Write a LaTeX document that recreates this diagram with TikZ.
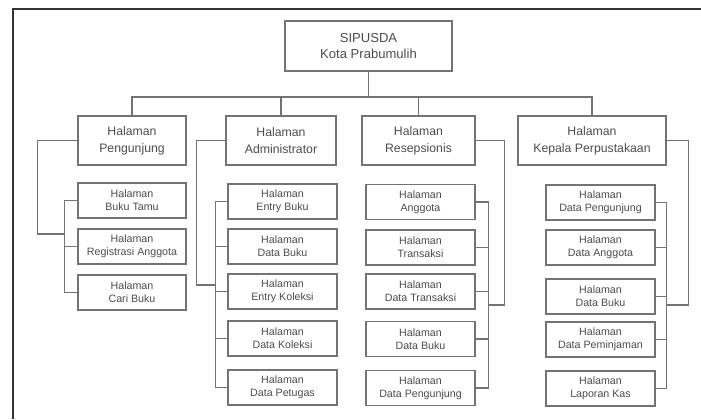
\documentclass[tikz,border=0pt]{standalone}
\usepackage{fontspec}
\setmainfont{Liberation Sans}
\usepackage{tikz}
\usetikzlibrary{positioning}

\begin{document}
\begin{tikzpicture}[
  x=0.75pt, y=-0.75pt,
  every node/.style={text=black!70},
  top/.style={draw=black!55,line width=0.9pt,align=center,inner sep=0pt,minimum width=125.25pt,minimum height=37.5pt,font=\fontsize{9.8}{11.5}\selectfont},
  page/.style={draw=black!55,line width=0.9pt,align=center,inner sep=0pt,minimum height=36.75pt,font=\fontsize{9.2}{12.8}\selectfont},
  sub/.style={draw=black!55,line width=0.9pt,align=center,inner sep=0pt,minimum width=81.75pt,minimum height=26.25pt,font=\fontsize{8}{9.8}\selectfont},
  ln/.style={draw=black!55,line width=0.9pt}
]
\useasboundingbox (0,0) rectangle (701,419);
% outer frame (cut at right and bottom)
\draw[black!80,line width=1.5pt] (701,9) -- (13,9) -- (13,419);

% root
\node[top] (root) at (368.5,46) {SIPUSDA\\Kota Prabumulih};
\coordinate (bus) at (368.5,97);

% pages
\node[page,minimum width=81pt] (peng) at (132,140.5) {Halaman\\Pengunjung};
\node[page,minimum width=82.5pt] (admin) at (281,140.5) {Halaman\\Administrator};
\node[page,minimum width=84.75pt] (resep) at (418.5,140.5) {Halaman\\Resepsionis};
\node[page,minimum width=111pt] (kepala) at (592,140.5) {Halaman\\Kepala Perpustakaan};

\draw[ln] (root) -- (bus);
\draw[ln] (bus) -| (peng.north);
\draw[ln] (bus) -| (admin.north);
\draw[ln] (bus) -| (resep.north);
\draw[ln] (bus) -| (kepala.north);

% pengunjung
\node[sub,minimum width=81pt] (tamu) at (132,200.5) {Halaman\\Buku Tamu};
\node[sub,minimum width=81pt] (regis) at (132,246.5) {Halaman\\Registrasi Anggota};
\node[sub,minimum width=81pt] (cari) at (132,292.5) {Halaman\\Cari Buku};
\coordinate (pjoin) at (65,234);
\draw[ln] (peng.west) -- ++(-40,0) |- (pjoin);
\draw[ln] (tamu.west) -- ++(-13,0) |- (cari.west);
\draw[ln] (regis.west) -- ++(-13,0);

% administrator
\node[sub] (entbuku) at (282.5,201.5) {Halaman\\Entry Buku};
\node[sub] (dbuku) at (282.5,246.5) {Halaman\\Data Buku};
\node[sub] (entkol) at (282.5,291.5) {Halaman\\Entry Koleksi};
\node[sub] (dkol) at (282.5,338.5) {Halaman\\Data Koleksi};
\node[sub] (dpetugas) at (282.5,387.5) {Halaman\\Data Petugas};
\coordinate (ajoin) at (216,285);
\draw[ln] (admin.west) -- ++(-29,0) |- (ajoin);
\draw[ln] (entbuku.west) -- ++(-12,0) |- (dpetugas.west);
\draw[ln] (dbuku.west) -- ++(-12,0);
\draw[ln] (entkol.west) -- ++(-12,0);
\draw[ln] (dkol.west) -- ++(-12,0);

% resepsionis
\node[sub] (anggota) at (420.5,202) {Halaman\\Anggota};
\node[sub] (trans) at (420.5,247.5) {Halaman\\Transaksi};
\node[sub] (dtrans) at (420.5,291.5) {Halaman\\Data Transaksi};
\node[sub] (rbuku) at (420.5,339) {Halaman\\Data Buku};
\node[sub] (rpeng) at (420.5,388) {Halaman\\Data Pengunjung};
\coordinate (rjoin) at (488,305);
\draw[ln] (resep.east) -- ++(29,0) |- (rjoin);
\draw[ln] (anggota.east) -- ++(13,0) |- (rpeng.east);
\draw[ln] (trans.east) -- ++(13,0);
\draw[ln] (dtrans.east) -- ++(13,0);
\draw[ln] (rbuku.east) -- ++(13,0);

% kepala perpustakaan
\node[sub] (kpeng) at (600.5,202.5) {Halaman\\Data Pengunjung};
\node[sub] (kangg) at (600.5,247.5) {Halaman\\Data Anggota};
\node[sub] (kbuku) at (600.5,296.5) {Halaman\\Data Buku};
\node[sub] (kpinjam) at (600.5,339.5) {Halaman\\Data Peminjaman};
\node[sub] (kkas) at (600.5,388.5) {Halaman\\Laporan Kas};
\coordinate (kjoin) at (666,305);
\draw[ln] (kepala.east) -- ++(22,0) |- (kjoin);
\draw[ln] (kpeng.east) -- ++(11,0) |- (kkas.east);
\draw[ln] (kangg.east) -- ++(11,0);
\draw[ln] (kbuku.east) -- ++(11,0);
\draw[ln] (kpinjam.east) -- ++(11,0);
\end{tikzpicture}
\end{document}
